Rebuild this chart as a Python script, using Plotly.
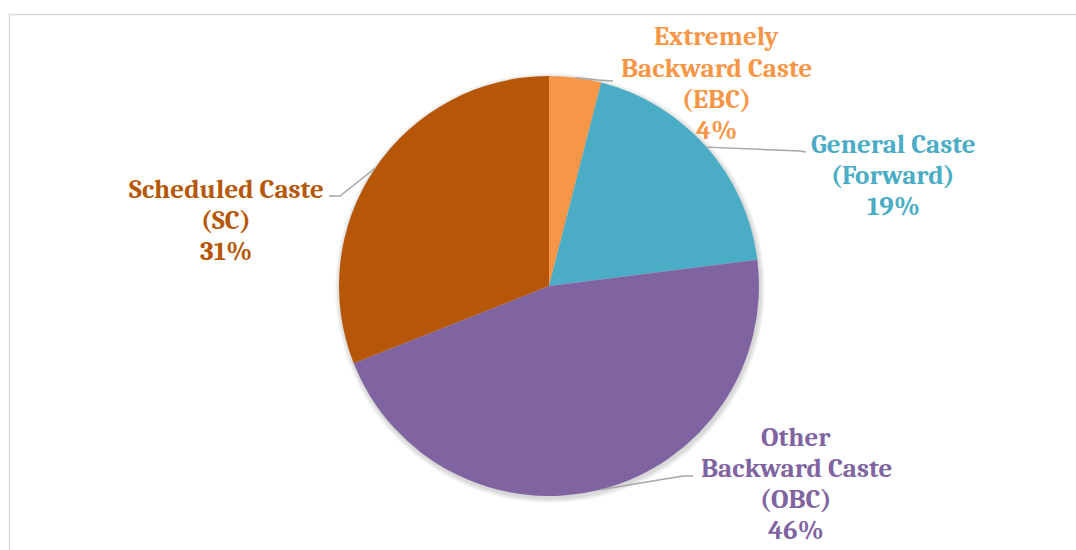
import math
import plotly.graph_objects as go

# Caste composition (share of respondents, %)
categories = ["Extremely Backward Caste (EBC)", "General Caste (Forward)",
              "Other Backward Caste (OBC)", "Scheduled Caste (SC)"]
label_lines = [["Extremely", "Backward Caste", "(EBC)"],
               ["General Caste", "(Forward)"],
               ["Other", "Backward Caste", "(OBC)"],
               ["Scheduled Caste", "(SC)"]]
values = [4, 19, 46, 31]
colors = ["#F79646", "#4BACC6", "#8064A2", "#B65708"]

W, H = 1076, 550
CX, CY, R = 549, 286, 210  # pie centre / radius in pixels
LINE_STEP = 31.3           # label line spacing in pixels

# label x centre and first-line y centre (px); leader-line bend / end points (px)
label_pos = [(716, 37), (893, 144), (796, 437), (226, 189)]
leader_bend = [(598, 80), (800, 151), (683, 476), (340, 196)]
leader_end = [(613, 81), (806, 152), (693, 476), (329, 196)]


def px(x, y):
    return x / W, 1 - y / H


fig = go.Figure()
fig.add_trace(go.Pie(
    labels=categories,
    values=values,
    sort=False,
    direction="clockwise",
    rotation=0,
    marker=dict(colors=colors, line=dict(width=0)),
    textinfo="none",
    hoverinfo="label+percent",
    showlegend=False,
    domain=dict(x=[(CX - R) / W, (CX + R) / W], y=[1 - (CY + R) / H, 1 - (CY - R) / H]),
))

total = sum(values)
cum = 0
shapes = []
annotations = []

# soft drop shadow behind the pie
for k in range(1, 6):
    rr = R + k
    x0, y1 = px(CX + 1 - rr, CY + 2 - rr)
    x1, y0 = px(CX + 1 + rr, CY + 2 + rr)
    shapes.append(dict(type="circle", xref="paper", yref="paper",
                       x0=x0, x1=x1, y0=y0, y1=y1, layer="below",
                       fillcolor="rgba(0,0,0,0.03)", line=dict(width=0)))

for i, v in enumerate(values):
    mid = (cum + v / 2) / total * 2 * math.pi
    cum += v
    sx, sy = CX + R * math.sin(mid), CY - R * math.cos(mid)
    pts = [(sx, sy), leader_bend[i], leader_end[i]]
    path = "M " + " L ".join(f"{px(a, b)[0]:.5f},{px(a, b)[1]:.5f}" for a, b in pts)
    shapes.append(dict(type="path", xref="paper", yref="paper", path=path,
                       line=dict(color="#A6A6A6", width=1.5)))
    pct = round(v / total * 100)
    lines = label_lines[i] + [f"{pct}%"]
    for j, line in enumerate(lines):
        lx, ly = px(label_pos[i][0], label_pos[i][1] + j * LINE_STEP)
        annotations.append(dict(x=lx, y=ly, xref="paper", yref="paper", text=line,
                                showarrow=False, xanchor="center", yanchor="middle",
                                font=dict(family="Cambria, 'Liberation Serif', serif",
                                          size=27, color=colors[i], weight="bold")))

# chart frame
shapes.append(dict(type="rect", xref="paper", yref="paper",
                   x0=9.5 / W, x1=1.01, y0=-0.01, y1=1 - 14.5 / H,
                   line=dict(color="#D9D9D9", width=1.5), fillcolor="rgba(0,0,0,0)",
                   layer="below"))

fig.update_layout(
    width=W, height=H,
    margin=dict(l=0, r=0, t=0, b=0),
    paper_bgcolor="white",
    plot_bgcolor="white",
    shapes=shapes,
    annotations=annotations,
)

fig.write_html("out.html")
